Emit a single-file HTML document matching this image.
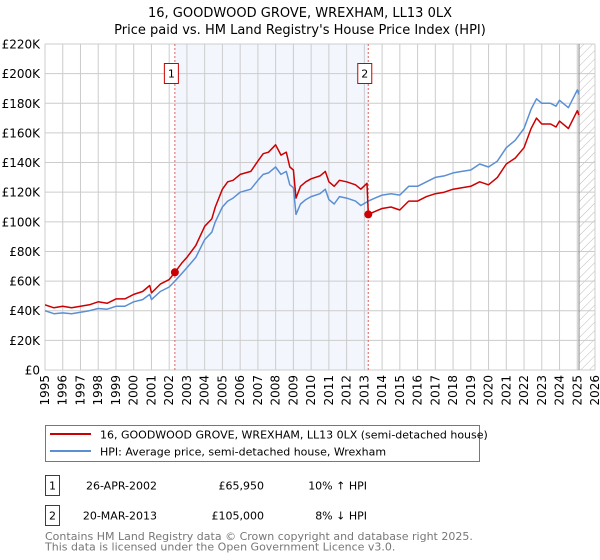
<!DOCTYPE html>
<html><head><meta charset="utf-8"><style>
body{margin:0;background:#fff;}
svg{display:block;font-family:"DejaVu Sans","Liberation Sans",sans-serif;}
</style></head><body>
<svg id="chart" width="600" height="560" viewBox="0 0 600 560">
<text x="300" y="17" text-anchor="middle" font-size="13" fill="#000">16, GOODWOOD GROVE, WREXHAM, LL13 0LX</text>
<text x="300" y="34" text-anchor="middle" font-size="13" fill="#000">Price paid vs. HM Land Registry's House Price Index (HPI)</text>
<defs><pattern id="hatch" width="6" height="6" patternUnits="userSpaceOnUse" patternTransform="rotate(45)"><line x1="0" y1="0" x2="0" y2="6" stroke="#bbb" stroke-width="1"/></pattern>
<clipPath id="plotclip"><rect x="45" y="44" width="550" height="326"/></clipPath></defs>
<g id="shade"></g>
<g id="grid"></g>
<g id="series" clip-path="url(#plotclip)"></g>
<g id="axes"></g>
<g>
<rect x="45.5" y="425.5" width="434" height="36" fill="#fff" stroke="#777"/>
<line x1="50" y1="434" x2="91" y2="434" stroke="#cc0000" stroke-width="2"/>
<text x="100" y="438.5" font-size="11">16, GOODWOOD GROVE, WREXHAM, LL13 0LX (semi-detached house)</text>
<line x1="50" y1="451" x2="91" y2="451" stroke="#5b8fd4" stroke-width="2"/>
<text x="100" y="455.5" font-size="11">HPI: Average price, semi-detached house, Wrexham</text>
</g>
<g font-size="11">
<rect x="45.5" y="475.5" width="14" height="20" fill="#fff" stroke="#cc0000"/>
<text x="52.5" y="489.5" text-anchor="middle">1</text>
<text x="157" y="489.5" text-anchor="end">26-APR-2002</text>
<text x="264" y="489.5" text-anchor="end">£65,950</text>
<text x="367" y="489.5" text-anchor="end">10% ↑ HPI</text>
<rect x="45.5" y="505.5" width="14" height="20" fill="#fff" stroke="#cc0000"/>
<text x="52.5" y="519.5" text-anchor="middle">2</text>
<text x="157" y="519.5" text-anchor="end">20-MAR-2013</text>
<text x="264" y="519.5" text-anchor="end">£105,000</text>
<text x="367" y="519.5" text-anchor="end">8% ↓ HPI</text>
</g>
<text x="45" y="540" font-size="11" fill="#777">Contains HM Land Registry data © Crown copyright and database right 2025.</text>
<text x="45" y="550.5" font-size="11" fill="#777">This data is licensed under the Open Government Licence v3.0.</text>
</svg>
<script>
const hpiYears=[1995,1995.5,1996,1996.5,1997,1997.5,1998,1998.5,1999,1999.5,2000,2000.5,2000.9,2001.0,2001.5,2002,2002.32,2002.7,2003,2003.5,2004,2004.4,2004.6,2005,2005.3,2005.6,2006,2006.3,2006.6,2007,2007.3,2007.6,2008,2008.3,2008.6,2008.8,2009.0,2009.15,2009.4,2009.7,2010,2010.5,2010.8,2011.0,2011.3,2011.6,2012,2012.5,2012.8,2013.22,2013.6,2014,2014.5,2015,2015.5,2016,2016.5,2017,2017.5,2018,2018.5,2019,2019.5,2020,2020.5,2021,2021.5,2022,2022.4,2022.7,2023,2023.5,2023.8,2024,2024.5,2025,2025.1];
const hpiValues=[40,38,38.5,38,39,40,41.5,41,43,43,46,47.5,51,47.5,53,56,60,65,69,76,88,93,100,110,114,116,120,121,122,128,132,133,137,132,134,125,123,105,112,115,117,119,122,115,112,117,116,114,111,114,116,118,119,118,124,124,127,130,131,133,134,135,139,137,141,150,155,163,176,183,180,180,178,182,177,189,186];
const propYears=[1995,1995.5,1996,1996.5,1997,1997.5,1998,1998.5,1999,1999.5,2000,2000.5,2000.9,2001.0,2001.5,2002,2002.32,2002.7,2003,2003.5,2004,2004.4,2004.6,2005,2005.3,2005.6,2006,2006.3,2006.6,2007,2007.3,2007.6,2008,2008.3,2008.6,2008.8,2009.0,2009.15,2009.4,2009.7,2010,2010.5,2010.8,2011.0,2011.3,2011.6,2012,2012.5,2012.8,2013.15,2013.22,2013.6,2014,2014.5,2015,2015.5,2016,2016.5,2017,2017.5,2018,2018.5,2019,2019.5,2020,2020.5,2021,2021.5,2022,2022.4,2022.7,2023,2023.5,2023.8,2024,2024.5,2025,2025.1];
const propValues=[44,42,43,42,43,44,46,45,48,48,51,53,57,52,58,61,65.95,72,76,84,97,102,110,122,127,128,132,133,134,141,146,147,152,145,147,137,135,116,124,127,129,131,134,127,124,128,127,125,122,126,105,107,109,110,108,114,114,117,119,120,122,123,124,127,125,130,139,143,150,163,170,166,166,164,168,163,175,172];
const saleYears=[2002.32,2013.22];
const saleValues=[65.95,105];
const saleLabels=["1","2"];
const yTicks=[0,20,40,60,80,100,120,140,160,180,200,220];
const yTickLabels=["£0","£20K","£40K","£60K","£80K","£100K","£120K","£140K","£160K","£180K","£200K","£220K"];
const xTicks=[1995,1996,1997,1998,1999,2000,2001,2002,2003,2004,2005,2006,2007,2008,2009,2010,2011,2012,2013,2014,2015,2016,2017,2018,2019,2020,2021,2022,2023,2024,2025,2026];
const dataEndYear=2025.1;

const NS="http://www.w3.org/2000/svg";
const L=45,R=595,T=44,B=370,X0=1995,X1=2026,YMAX=220;
const xs=y=>L+(y-X0)/(X1-X0)*(R-L);
const ys=v=>B-v/YMAX*(B-T);
function mk(tag,attrs,parent){const e=document.createElementNS(NS,tag);for(const k in attrs)e.setAttribute(k,attrs[k]);parent.appendChild(e);return e;}
const shade=document.getElementById('shade'),grid=document.getElementById('grid'),series=document.getElementById('series'),axes=document.getElementById('axes');

let r=mk('rect',{x:xs(saleYears[0]),y:T,width:xs(saleYears[1])-xs(saleYears[0]),height:B-T,fill:'#eef3fc',opacity:0.7},shade);


r=mk('rect',{x:xs(dataEndYear),y:T,width:R-xs(dataEndYear),height:B-T,fill:'url(#hatch)'},shade);



xTicks.forEach(t=>{const l=mk('line',{x1:xs(t),y1:T,x2:xs(t),y2:B,stroke:'#ccc','stroke-width':1},grid);


const tx=mk('text',{x:0,y:0,'font-size':12,'text-anchor':'end',transform:`translate(${xs(t)+4},${B+5}) rotate(-90)`},axes);
tx.textContent=t;

});
yTicks.forEach((t,i)=>{const l=mk('line',{x1:L,y1:ys(t),x2:R,y2:ys(t),stroke:'#ccc','stroke-width':1},grid);


const tx=mk('text',{x:40,y:ys(t)+4.5,'font-size':12,'text-anchor':'end'},axes);
tx.textContent=yTickLabels[i];

});
let bl=mk('line',{x1:xs(dataEndYear),y1:T,x2:xs(dataEndYear),y2:B,stroke:'#888','stroke-width':1},grid);



saleYears.forEach((s,i)=>{const l=mk('line',{x1:xs(s),y1:T,x2:xs(s),y2:B,stroke:'#e06060','stroke-width':1,'stroke-dasharray':'2,2'},series);

});

function path(xa,va,color,name){const d=xa.map((x,i)=>(i?'L':'M')+xs(x).toFixed(1)+','+ys(va[i]).toFixed(1)).join('');
const p=mk('path',{d:d,fill:'none',stroke:color,'stroke-width':1.5,'stroke-linejoin':'round'},series);

}
path(hpiYears,hpiValues,'#5b8fd4','hpi-line');
path(propYears,propValues,'#cc0000','property-price-line');

saleYears.forEach((s,i)=>{const c=mk('circle',{cx:xs(s),cy:ys(saleValues[i]),r:4,fill:'#cc0000'},axes);


const bx=mk('rect',{x:xs(s)-10.5,y:63.5,width:14,height:20,fill:'#fff',stroke:'#cc0000'},axes);


const t=mk('text',{x:xs(s)-3.5,y:77.5,'font-size':11,'text-anchor':'middle'},axes);
t.textContent=saleLabels[i];

});
</script>
</body></html>
